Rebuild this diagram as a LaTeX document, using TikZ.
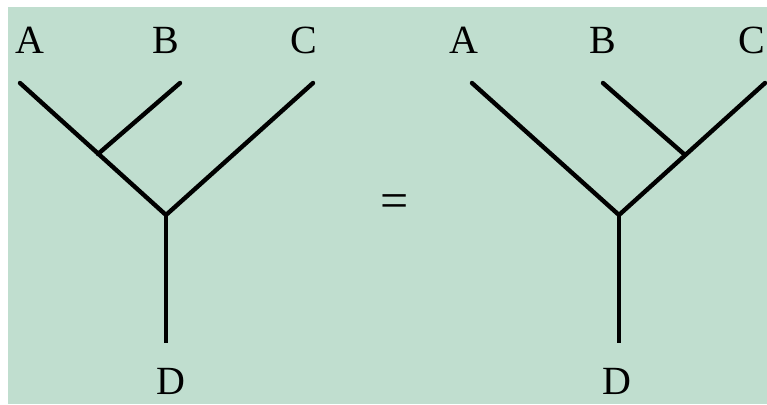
\documentclass[tikz,border=0pt]{standalone}
\usepackage{fontspec}
\setmainfont{Liberation Serif}
\definecolor{bgmint}{RGB}{192,222,207}
\begin{document}
\begin{tikzpicture}[x=1pt,y=-1pt,
  lbl/.style={anchor=base,inner sep=0pt,font=\fontsize{40}{40}\selectfont},
  branch/.style={line width=4.4pt,line cap=round},
  stem/.style={line width=3.4pt}]
\useasboundingbox (0,0) rectangle (767,404);
\fill[bgmint] (8,7) rectangle (767,404);
% left tree
\coordinate (la) at (20,83);
\coordinate (lb) at (180,83);
\coordinate (lc) at (313,83);
\coordinate (lj1) at (98,154);
\coordinate (lj2) at (166,215);
\coordinate (ld) at (166,343);
\draw[branch] (la) -- (lj2) -- (lc);
\draw[branch] (lb) -- (lj1);
\draw[stem] (lj2) -- (ld);
\node[lbl] (tA1) at (30,53) {A};
\node[lbl] (tB1) at (166,53) {B};
\node[lbl] (tC1) at (304,53) {C};
\node[lbl] (tD1) at (171,394) {D};
% equals
\node[anchor=center,inner sep=0pt,font=\fontsize{50}{50}\selectfont] (eq) at (395,206) {=};
% right tree
\coordinate (ra) at (472,83);
\coordinate (rb) at (603,83);
\coordinate (rc) at (765,83);
\coordinate (rj1) at (685,155);
\coordinate (rj2) at (619,215);
\coordinate (rd) at (619,343);
\draw[branch] (ra) -- (rj2) -- (rc);
\draw[branch] (rb) -- (rj1);
\draw[stem] (rj2) -- (rd);
\node[lbl] (tA2) at (464,53) {A};
\node[lbl] (tB2) at (603,53) {B};
\node[lbl] (tC2) at (752,53) {C};
\node[lbl] (tD2) at (617,394) {D};
\end{tikzpicture}
\end{document}
